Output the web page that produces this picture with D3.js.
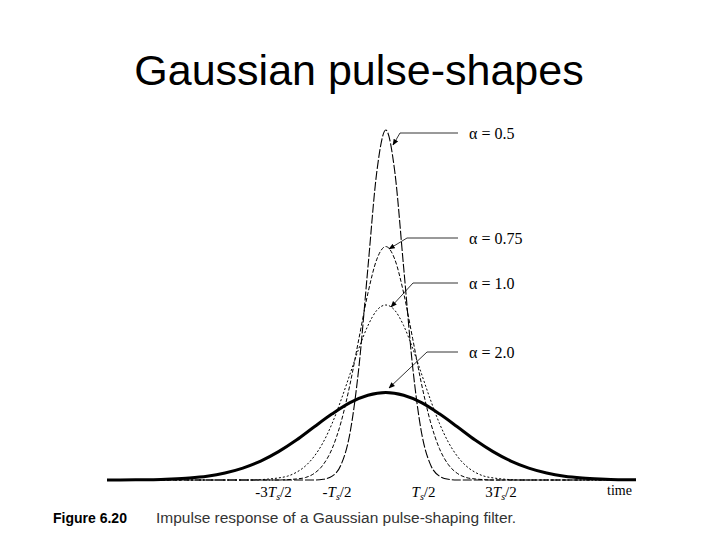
<!DOCTYPE html>
<html><head><meta charset="utf-8">
<script src="https://cdn.jsdelivr.net/npm/d3@7"></script>
<style>body{margin:0;background:#fff}</style>
</head><body><svg id="c" width="720" height="540"></svg>
<script>
// time in units of Ts, amplitude normalised (alpha=0.5 peak = 1)
const x05 = [-3.9,-1,-0.875,-0.75,-0.625,-0.5,-0.375,-0.25,-0.125,0,0.125,0.25,0.375,0.5,0.625,0.75,0.875,1,3.5];
const y05 = [0,0,0.002,0.011,0.044,0.135,0.325,0.607,0.882,1,0.882,0.607,0.325,0.135,0.044,0.011,0.002,0,0];
const x075 = [-3.9,-1.5,-1.375,-1.25,-1.125,-1,-0.875,-0.75,-0.625,-0.5,-0.375,-0.25,-0.125,0,0.125,0.25,0.375,0.5,0.625,0.75,0.875,1,1.125,1.25,1.375,1.5,3.5];
const y075 = [0,0,0.001,0.003,0.007,0.019,0.044,0.090,0.166,0.274,0.405,0.534,0.631,0.667,0.631,0.534,0.405,0.274,0.166,0.090,0.044,0.019,0.007,0.003,0.001,0,0];
const x10 = [-3.9,-1.875,-1.75,-1.625,-1.5,-1.375,-1.25,-1.125,-1,-0.875,-0.75,-0.625,-0.5,-0.375,-0.25,-0.125,0,0.125,0.25,0.375,0.5,0.625,0.75,0.875,1,1.125,1.25,1.375,1.5,1.625,1.75,1.875,3.5];
const y10 = [0,0,0.001,0.003,0.006,0.011,0.022,0.040,0.068,0.108,0.162,0.229,0.303,0.377,0.441,0.485,0.5,0.485,0.441,0.377,0.303,0.229,0.162,0.108,0.068,0.040,0.022,0.011,0.006,0.003,0.001,0,0];
const x20 = [-3.9,-3.5,-3.25,-3,-2.75,-2.5,-2.25,-2,-1.75,-1.5,-1.25,-1,-0.75,-0.5,-0.25,0,0.25,0.5,0.75,1,1.25,1.5,1.75,2,2.25,2.5,2.75,3,3.25,3.5];
const y20 = [0,0.0005,0.001,0.003,0.006,0.011,0.020,0.034,0.054,0.081,0.114,0.152,0.189,0.221,0.242,0.25,0.242,0.221,0.189,0.152,0.114,0.081,0.054,0.034,0.020,0.011,0.006,0.003,0.001,0.0005];
const alphaLabels = ["α = 0.5","α = 0.75","α = 1.0","α = 2.0"];
const tickVals = [-1.5,-0.5,0.5,1.5];
const tickLabels = [["-3","T","s","/2"],["-","T","s","/2"],["","T","s","/2"],["3","T","s","/2"]];

const svg = d3.select("#c");
const x = d3.scaleLinear().domain([-3.9,3.5]).range([107,636]);
const y = d3.scaleLinear().domain([0,1]).range([480,130]);
const line = d3.line().x(d=>x(d[0])).y(d=>y(d[1])).curve(d3.curveMonotoneX);

svg.append("text").attr("x",359).attr("y",85).attr("text-anchor","middle")
  .attr("font-family","Liberation Sans, Arial, sans-serif").attr("font-size",43).text("Gaussian pulse-shapes");

const series = [
  {xs:x20,ys:y20,w:3,dash:null},
  {xs:x10,ys:y10,w:1,dash:"2,2"},
  {xs:x075,ys:y075,w:1,dash:"4,2"},
  {xs:x05,ys:y05,w:1.1,dash:"9,2"}
];
series.forEach(s=>{
  svg.append("path").attr("d",line(s.xs.map((v,i)=>[v,s.ys[i]])))
    .attr("fill","none").attr("stroke","#000").attr("stroke-width",s.w)
    .attr("stroke-dasharray",s.dash);
});

const ann = [[133,400,[393,145]],[238,407,[389,249]],[283,413,[391,307]],[352,427,[389,388]]];
const defs = svg.append("defs");
defs.append("marker").attr("id","ah").attr("viewBox","0 0 10 10").attr("refX",9).attr("refY",5)
  .attr("markerWidth",8).attr("markerHeight",8).attr("orient","auto")
  .append("path").attr("d","M0,1L10,5L0,9Z").attr("fill","#000");
ann.forEach((a,i)=>{
  svg.append("path").attr("d",`M458,${a[0]}L${a[1]},${a[0]}L${a[2][0]},${a[2][1]}`)
    .attr("fill","none").attr("stroke","#000").attr("stroke-width",0.8).attr("marker-end","url(#ah)");
  svg.append("text").attr("x",469).attr("y",a[0]+6).attr("font-family","Liberation Serif, Times New Roman, serif")
    .attr("font-size",16).text(alphaLabels[i]);
});

const tlOff = [-5,-13,2,8];
tickVals.forEach((v,i)=>{
  const t = svg.append("text").attr("x",x(v)+tlOff[i]).attr("y",497).attr("text-anchor","middle")
    .attr("font-family","Liberation Serif, Times New Roman, serif").attr("font-size",15);
  const L = tickLabels[i];
  t.append("tspan").text(L[0]);
  t.append("tspan").attr("font-style","italic").text(L[1]);
  t.append("tspan").attr("font-style","italic").attr("font-size",10).attr("dy",3).text(L[2]);
  t.append("tspan").attr("dy",-3).text(L[3]);
});
svg.append("text").attr("x",607).attr("y",495).attr("font-family","Liberation Serif, Times New Roman, serif")
  .attr("font-size",14).text("time");

svg.append("text").attr("x",53).attr("y",523).attr("font-family","Liberation Sans, Arial, sans-serif")
  .attr("font-size",14).attr("font-weight","bold").text("Figure 6.20");
svg.append("text").attr("x",156).attr("y",523).attr("font-family","Liberation Sans, Arial, sans-serif")
  .attr("font-size",15.5).attr("fill","#333").text("Impulse response of a Gaussian pulse-shaping filter.");
</script></body></html>
